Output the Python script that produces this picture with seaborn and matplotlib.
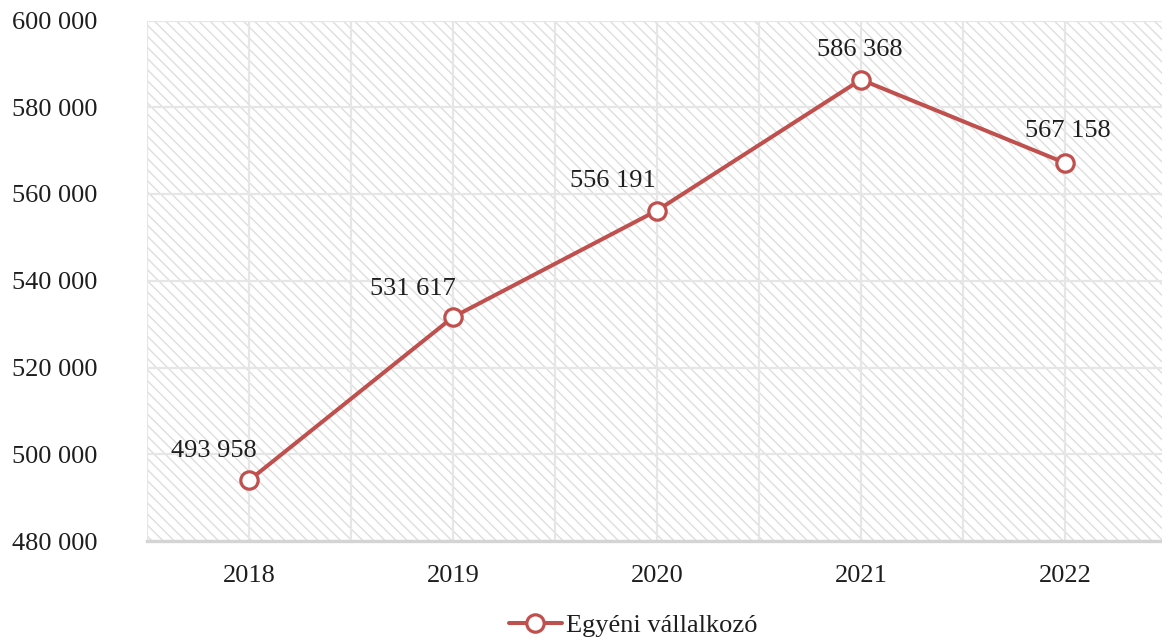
import matplotlib
matplotlib.use("Agg")
import matplotlib.pyplot as plt
from matplotlib.patches import Rectangle
from matplotlib.lines import Line2D
from matplotlib.ticker import FuncFormatter, FixedLocator
import seaborn as sns
import pandas as pd

years = ["2018", "2019", "2020", "2021", "2022"]
values = [493958, 531617, 556191, 586368, 567158]
series_name = "Egyéni vállalkozó"
y_ticks = [480000, 500000, 520000, 540000, 560000, 580000, 600000]

# label offsets in points (dx, dy) relative to each marker
label_offsets = [(-25, 21), (-29, 20), (-32, 21), (-1, 21), (2, 23)]

sns.set_theme(style="white")
plt.rcParams["font.family"] = ["Liberation Serif", "DejaVu Serif"]
plt.rcParams["hatch.linewidth"] = 1.0

line_color = "#c0504d"
grid_color = "#e6e6e6"
text_color = "#1e1e1e"
fs = 19

fig = plt.figure(figsize=(11.62, 6.41), dpi=100)
ax = fig.add_axes([147 / 1162, 1 - 541 / 641, 1020 / 1162, (541 - 20.5) / 641])

# hatched plot background
bg = Rectangle((0, 0), 1, 1, transform=ax.transAxes, facecolor="white",
               edgecolor="#dedede", hatch="\\\\\\", linewidth=0, zorder=0)
ax.add_patch(bg)

df = pd.DataFrame({"pos": range(len(years)), "value": values})
sns.lineplot(data=df, x="pos", y="value", ax=ax, color=line_color, linewidth=2.9,
             marker="o", markersize=12.5, markerfacecolor="white",
             markeredgecolor=line_color, markeredgewidth=2.3, zorder=5)

ax.set_xlim(-0.5, len(years) - 0.5)
ax.set_ylim(y_ticks[0], y_ticks[-1])

fmt = FuncFormatter(lambda v, p: f"{int(v):,}".replace(",", " "))
ax.set_yticks(y_ticks)
ax.yaxis.set_major_formatter(fmt)
ax.set_xticks(range(len(years)))
ax.set_xticklabels(years)
ax.xaxis.set_minor_locator(FixedLocator([i - 0.5 for i in range(len(years) + 1)]))

ax.grid(True, which="major", color=grid_color, linewidth=1.6, zorder=1)
ax.grid(True, which="minor", axis="x", color=grid_color, linewidth=1.6, zorder=1)
ax.set_axisbelow(True)

ax.tick_params(axis="both", which="both", length=0, labelsize=fs, colors=text_color)
ax.tick_params(axis="y", pad=36)
ax.tick_params(axis="x", pad=17)
ax.set_xlabel("")
ax.set_ylabel("")

for s in ["top", "right", "left"]:
    ax.spines[s].set_visible(False)
ax.spines["bottom"].set_color("#d4d4d4")
ax.spines["bottom"].set_linewidth(2.4)

for i, v in enumerate(values):
    dx, dy = label_offsets[i]
    ax.annotate(f"{v:,}".replace(",", " "), (i, v), xytext=(dx, dy),
                textcoords="offset points", ha="center", va="center",
                fontsize=fs, color=text_color, zorder=6)

handle = Line2D([], [], color=line_color, linewidth=2.9, marker="o", markersize=12.5,
                markerfacecolor="white", markeredgecolor=line_color, markeredgewidth=2.3)
fig.legend([handle], [series_name], loc="center", bbox_to_anchor=(633 / 1162, 1 - 625 / 641),
           frameon=False, fontsize=fs, handlelength=2.0, handletextpad=0.15,
           labelcolor=text_color)

fig.savefig("out.png", dpi=100)
